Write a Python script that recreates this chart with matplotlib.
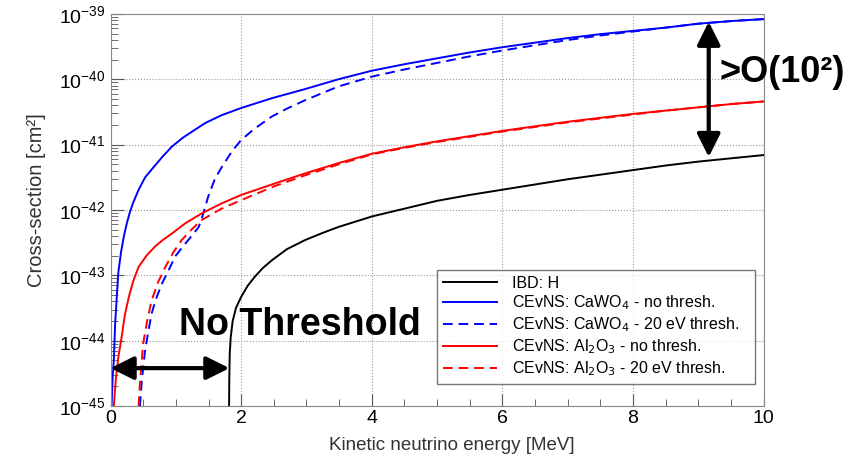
import numpy as np
import matplotlib.pyplot as plt
from matplotlib.ticker import FixedLocator, MultipleLocator, NullFormatter

plt.rcParams['font.family'] = ['Liberation Sans', 'DejaVu Sans']

# values (energy in MeV, log10 of cross-section in cm^2)
E_caw = [0.015, 0.03, 0.05, 0.07, 0.1, 0.12, 0.16, 0.2, 0.25, 0.3, 0.35, 0.43, 0.53, 0.68,
         0.8, 0.94, 1.1, 1.25, 1.45, 1.7, 2.0, 2.47, 2.98, 3.49, 4.0, 4.5, 5.0, 5.5, 6.0,
         6.5, 7.0, 7.5, 8.0, 8.5, 9.0, 9.5, 10.0]
logs_caw = [-45.0, -44.6, -44.3, -43.75, -43.25, -42.95, -42.65, -42.42, -42.2, -42.02,
            -41.88, -41.69, -41.5, -41.32, -41.18, -41.03, -40.9, -40.8, -40.67, -40.55,
            -40.44, -40.29, -40.15, -40.0, -39.87, -39.77, -39.68, -39.59, -39.51, -39.44,
            -39.37, -39.31, -39.26, -39.21, -39.15, -39.11, -39.08]

E_caw_th = [0.45, 0.48, 0.53, 0.58, 0.63, 0.7, 0.79, 0.9, 0.99, 1.1, 1.19, 1.28, 1.35, 1.4,
            1.45, 1.5, 1.6, 1.7, 1.86, 2.0, 2.2, 2.47, 2.7, 2.98, 3.49, 4.0, 4.5, 5.0, 5.5,
            6.0, 6.5, 7.0, 7.5, 8.0, 8.5, 9.0, 9.5, 10.0]
logs_caw_th = [-45.0, -44.6, -44.14, -43.85, -43.58, -43.35, -43.12, -42.9, -42.71, -42.57,
               -42.46, -42.35, -42.26, -42.12, -41.95, -41.78, -41.52, -41.35, -41.1,
               -40.93, -40.76, -40.57, -40.45, -40.32, -40.11, -39.96, -39.85, -39.75,
               -39.65, -39.56, -39.48, -39.4, -39.33, -39.27, -39.21, -39.15, -39.11, -39.08]

E_al = [0.05, 0.08, 0.12, 0.17, 0.22, 0.28, 0.35, 0.43, 0.55, 0.68, 0.8, 0.94, 1.15, 1.4,
        1.7, 2.0, 2.5, 2.98, 3.5, 4.0, 4.5, 5.0, 5.5, 6.0, 6.5, 7.0, 7.5, 8.0, 8.5, 9.0,
        9.5, 10.0]
logs_al = [-45.0, -44.6, -44.25, -43.94, -43.6, -43.33, -43.08, -42.87, -42.7, -42.56,
           -42.46, -42.36, -42.2, -42.05, -41.9, -41.77, -41.6, -41.44, -41.28, -41.14,
           -41.04, -40.95, -40.87, -40.79, -40.72, -40.65, -40.59, -40.53, -40.48, -40.43,
           -40.38, -40.34]

E_al_th = [0.43, 0.45, 0.5, 0.56, 0.63, 0.73, 0.84, 0.96, 1.09, 1.25, 1.4, 1.7, 2.0, 2.5,
           2.98, 3.5, 4.0, 4.5, 5.0, 5.5, 6.0, 6.5, 7.0, 7.5, 8.0, 8.5, 9.0, 9.5, 10.0]
logs_al_th = [-45.0, -44.65, -44.04, -43.7, -43.38, -43.1, -42.87, -42.65, -42.46, -42.29,
              -42.15, -41.98, -41.85, -41.64, -41.47, -41.3, -41.15, -41.05, -40.96,
              -40.88, -40.8, -40.73, -40.66, -40.6, -40.54, -40.48, -40.43, -40.38, -40.34]

E_ibd = [1.815, 1.818, 1.825, 1.84, 1.87, 1.92, 2.0, 2.1, 2.21, 2.33, 2.47, 2.7, 2.98, 3.25,
         3.49, 4.0, 4.5, 5.0, 5.5, 6.0, 6.5, 7.0, 7.5, 8.0, 8.5, 9.0, 9.5, 10.0]
logs_ibd = [-45.0, -44.6, -44.2, -43.95, -43.7, -43.5, -43.33, -43.16, -43.02, -42.89,
            -42.77, -42.6, -42.46, -42.35, -42.26, -42.1, -41.98, -41.86, -41.77, -41.69,
            -41.61, -41.53, -41.46, -41.39, -41.32, -41.26, -41.21, -41.16]

decades = [-45, -44, -43, -42, -41, -40, -39]

series = [
    (E_ibd, logs_ibd, 'k', '-', 'IBD: H'),
    (E_caw, logs_caw, '#0000ff', '-', 'CEvNS: CaWO$_4$ - no thresh.'),
    (E_caw_th, logs_caw_th, '#0000ff', (0, (5, 3)), 'CEvNS: CaWO$_4$ - 20 eV thresh.'),
    (E_al, logs_al, '#ff0000', '-', 'CEvNS: Al$_2$O$_3$ - no thresh.'),
    (E_al_th, logs_al_th, '#ff0000', (0, (5, 3)), 'CEvNS: Al$_2$O$_3$ - 20 eV thresh.'),
]

fig = plt.figure(figsize=(8.57, 4.63), dpi=100)
ax = fig.add_axes([0.129, 0.123, 0.762, 0.847])

for x, ly, c, ls, lab in series:
    ax.plot(x, 10.0**np.array(ly), color=c, ls=ls, lw=1.4, label=lab)

ax.set_yscale('log')
ax.set_xlim(0, 10)
ax.set_ylim(1e-45, 1e-39)
ax.xaxis.set_major_locator(MultipleLocator(2))
ax.xaxis.set_minor_locator(MultipleLocator(0.5))
major = [10.0**d for d in decades]
minor = [m * 10.0**d for d in decades[:-1] for m in range(2, 10)]
ax.yaxis.set_major_locator(FixedLocator(major))
ax.yaxis.set_minor_locator(FixedLocator(minor))
ax.yaxis.set_minor_formatter(NullFormatter())
ax.tick_params(which='both', direction='in', colors='#555555', labelcolor='black',
               labelsize=14)
ax.tick_params(which='major', length=9)
ax.tick_params(which='minor', length=5)
ax.tick_params(axis='x', pad=3)
for s in ax.spines.values():
    s.set_color('#888888')
ax.grid(True, which='major', ls=':', color='#999999', lw=0.8)

ax.set_xlabel('Kinetic neutrino energy [MeV]', fontsize=13.5, color='#333333')
ax.set_ylabel('Cross-section [cm²]', fontsize=14.5, color='#333333')
ax.xaxis.set_label_coords(0.522, -0.08)
ax.yaxis.set_label_coords(-0.099, 0.526)

leg = ax.legend(loc='upper left', bbox_to_anchor=(0.5, 0.347, 0.487, 0), mode='expand',
                borderaxespad=0, fontsize=11.5, frameon=True, fancybox=False,
                handlelength=3.4, handletextpad=0.95, labelspacing=0.2, borderpad=0.35)
leg.get_frame().set_edgecolor('#555555')
leg.get_frame().set_linewidth(1.0)

# annotations
ax.text(2.9, 10**-43.76, 'No Threshold', fontsize=27, fontweight='bold',
        ha='center', va='center')
ax.annotate('', xy=(0.0, 10**-44.42), xytext=(1.82, 10**-44.42),
            arrowprops=dict(arrowstyle='<|-|>', color='k', lw=3, mutation_scale=35,
                            shrinkA=0, shrinkB=0))
ax.annotate('', xy=(9.16, 10**-39.12), xytext=(9.16, 10**-41.19),
            arrowprops=dict(arrowstyle='<|-|>', color='k', lw=3, mutation_scale=35,
                            shrinkA=0, shrinkB=0))
ax.text(9.33, 10**-39.9, '>O(10²)', fontsize=26, fontweight='bold',
        ha='left', va='center', clip_on=False)

fig.savefig('out.png', dpi=100)
